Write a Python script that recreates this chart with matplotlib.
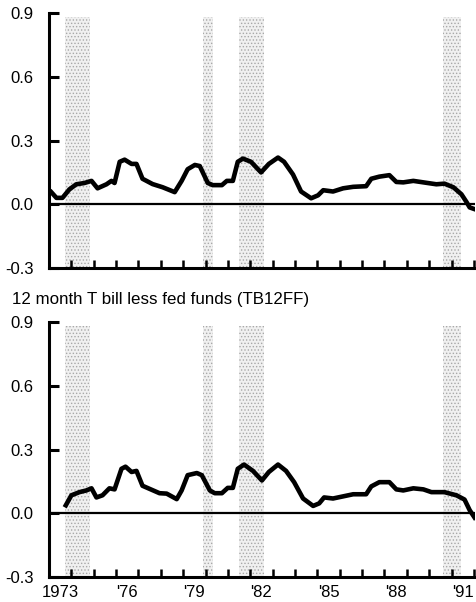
import numpy as np
import matplotlib.pyplot as plt

plt.rcParams['font.family'] = ['Liberation Sans', 'DejaVu Sans']
plt.rcParams['hatch.linewidth'] = 0.6

# upper panel series (years, percent)
yr_top = [1973.10, 1973.33, 1973.60, 1973.91, 1974.22, 1974.58, 1974.90, 1975.17, 1975.57,
          1975.79, 1975.93, 1976.16, 1976.38, 1976.69, 1976.91, 1977.18, 1977.63, 1978.08,
          1978.62, 1978.93, 1979.20, 1979.52, 1979.74, 1980.10, 1980.32, 1980.73, 1980.95,
          1981.22, 1981.44, 1981.67, 1982.03, 1982.48, 1982.83, 1983.24, 1983.51, 1983.91,
          1984.27, 1984.72, 1985.03, 1985.26, 1985.70, 1986.15, 1986.60, 1987.18, 1987.41,
          1987.77, 1988.22, 1988.53, 1988.84, 1989.29, 1989.74, 1990.32, 1990.68, 1991.08,
          1991.44, 1991.67, 1991.81, 1992.08]
val_top = [0.057, 0.030, 0.030, 0.070, 0.094, 0.100, 0.110, 0.075, 0.094,
           0.110, 0.100, 0.200, 0.210, 0.190, 0.190, 0.120, 0.095, 0.080,
           0.057, 0.110, 0.165, 0.185, 0.180, 0.100, 0.090, 0.090, 0.110,
           0.110, 0.200, 0.215, 0.200, 0.150, 0.190, 0.220, 0.200, 0.140,
           0.060, 0.028, 0.042, 0.066, 0.060, 0.075, 0.082, 0.085, 0.120,
           0.130, 0.137, 0.105, 0.103, 0.110, 0.103, 0.094, 0.097, 0.080,
           0.047, 0.010, -0.015, -0.025]

# lower panel: 12 month T bill less fed funds
yr_bot = [1973.75, 1974.00, 1974.36, 1974.67, 1974.90, 1975.12, 1975.39, 1975.70, 1975.93,
          1976.24, 1976.42, 1976.69, 1976.91, 1977.18, 1977.94, 1978.26, 1978.71, 1978.93,
          1979.20, 1979.61, 1979.83, 1980.19, 1980.41, 1980.73, 1980.99, 1981.22, 1981.44,
          1981.72, 1982.12, 1982.52, 1982.83, 1983.24, 1983.60, 1983.96, 1984.36,
          1984.81, 1985.08, 1985.30, 1985.70, 1986.15, 1986.60, 1987.18, 1987.41, 1987.77,
          1988.22, 1988.53, 1988.84, 1989.29, 1989.74, 1990.10, 1990.68, 1991.22, 1991.58,
          1991.81, 1992.03]
val_bot = [0.038, 0.085, 0.100, 0.108, 0.118, 0.075, 0.085, 0.118, 0.113,
           0.210, 0.220, 0.195, 0.200, 0.130, 0.095, 0.093, 0.067, 0.108,
           0.180, 0.190, 0.180, 0.108, 0.095, 0.095, 0.120, 0.120, 0.210,
           0.230, 0.200, 0.155, 0.195, 0.230, 0.200, 0.147, 0.070,
           0.035, 0.047, 0.075, 0.070, 0.080, 0.090, 0.090, 0.127, 0.147,
           0.147, 0.113, 0.108, 0.118, 0.113, 0.100, 0.100, 0.085, 0.065,
           0.015, -0.020]

recessions = [(1973.7, 1974.85), (1979.9, 1980.35), (1981.5, 1982.6), (1990.6, 1991.4)]
yticks = [-0.3, 0.0, 0.3, 0.6, 0.9]
label_years = [1973, 1976, 1979, 1982, 1985, 1988, 1991]
label_text = ['1973', "'76", "'79", "'82", "'85", "'88", "'91"]

fig = plt.figure(figsize=(4.76, 6.02), dpi=100)
ax1 = fig.add_axes([0.103, 0.555, 0.895, 0.423])
ax2 = fig.add_axes([0.103, 0.0415, 0.895, 0.423])

for ax, xs, ys in [(ax1, yr_top, val_top), (ax2, yr_bot, val_bot)]:
    for a, b in recessions:
        ax.axvspan(a, b, ymin=0.0, ymax=0.985, facecolor='#f0f0f0', edgecolor='#a8a8a8',
                   hatch='.....', lw=0, zorder=0)
    ax.axhline(0, color='black', lw=1.6, zorder=2)
    ax.plot(xs, ys, color='black', lw=3.3, solid_joinstyle='round', zorder=3)
    ax.set_xlim(1973, 1992.05)
    ax.set_ylim(-0.3, 0.9)
    ax.spines['top'].set_visible(False)
    ax.spines['right'].set_visible(False)
    ax.spines['left'].set_linewidth(2.2)
    ax.spines['bottom'].set_linewidth(2.2)
    ax.set_yticks(yticks)
    ax.set_yticklabels(['%.1f' % v for v in yticks])
    ax.tick_params(axis='y', direction='in', length=7, width=2.2, labelsize=12, pad=11)
    ax.set_xticks(np.arange(1974, 1993))
    ax.set_xticklabels([])
    ax.tick_params(axis='x', which='major', direction='in', length=6, width=1.8)
    ax.set_xticks([y + 0.5 for y in label_years], minor=True)
    ax.tick_params(axis='x', which='minor', length=0, labelsize=12, pad=6)

ax1.set_xticklabels([], minor=True)
ax2.set_xticklabels(label_text, minor=True)

fig.text(0.025, 0.503, '12 month T bill less fed funds (TB12FF)', fontsize=12.2, va='center')

fig.savefig('out.png', dpi=100)
